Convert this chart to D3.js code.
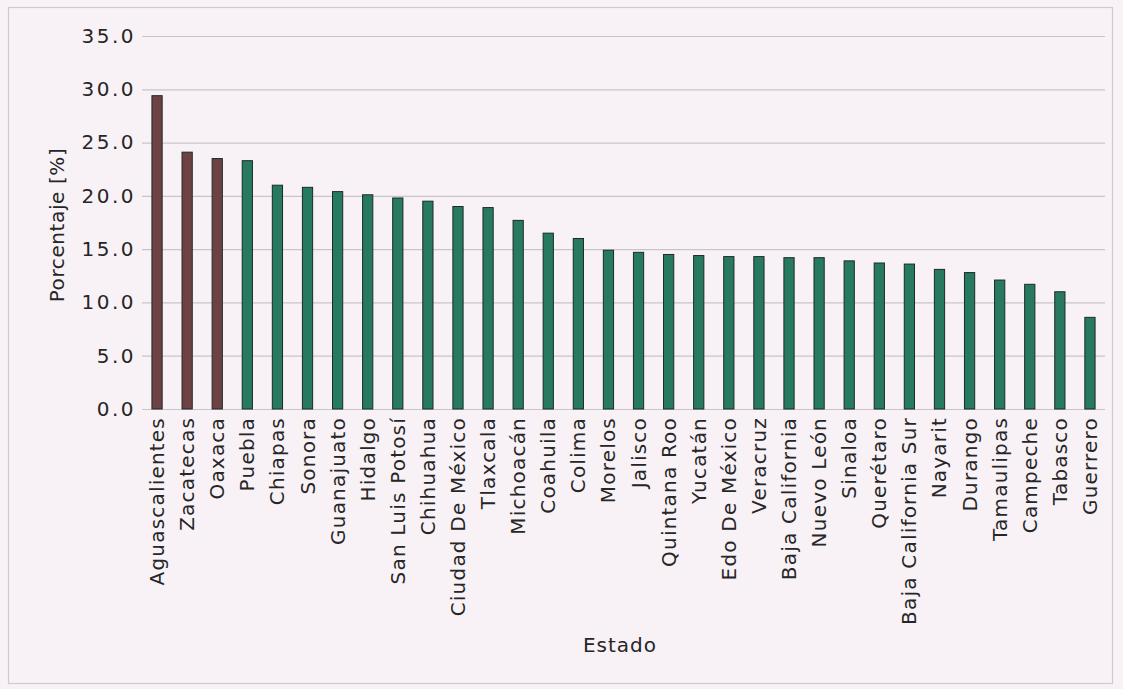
<!DOCTYPE html>
<html>
<head>
<meta charset="utf-8">
<script src="https://cdn.jsdelivr.net/npm/d3@7"></script>
<style>
  html, body { margin: 0; padding: 0; background: #f8f2f7; }
  svg { display: block; }
</style>
</head>
<body>
<div id="chart"></div>
<script>
// Estados ordenados de mayor a menor porcentaje
const estados = [
  'Aguascalientes', 'Zacatecas', 'Oaxaca', 'Puebla', 'Chiapas', 'Sonora',
  'Guanajuato', 'Hidalgo', 'San Luis Potosí', 'Chihuahua', 'Ciudad De México',
  'Tlaxcala', 'Michoacán', 'Coahuila', 'Colima', 'Morelos', 'Jalisco',
  'Quintana Roo', 'Yucatán', 'Edo De México', 'Veracruz', 'Baja California',
  'Nuevo León', 'Sinaloa', 'Querétaro', 'Baja California Sur', 'Nayarit',
  'Durango', 'Tamaulipas', 'Campeche', 'Tabasco', 'Guerrero'
];

const porcentajes = [
  29.4, 24.1, 23.5, 23.3, 21.0, 20.8,
  20.4, 20.1, 19.8, 19.5, 19.0,
  18.9, 17.7, 16.5, 16.0, 14.9, 14.7,
  14.5, 14.4, 14.3, 14.3, 14.2,
  14.2, 13.9, 13.7, 13.6, 13.1,
  12.8, 12.1, 11.7, 11.0, 8.6
];

// Estados resaltados en color guinda
const resaltados = ['Aguascalientes', 'Zacatecas', 'Oaxaca'];

const yTicks = [0, 5, 10, 15, 20, 25, 30, 35];

const W = 1123, H = 689;
const margin = { top: 36, right: 18, bottom: 280, left: 142 };
const width = W - margin.left - margin.right;
const height = H - margin.top - margin.bottom;

const FONT = '"DejaVu Sans", "Noto Sans", sans-serif';
const TEXT = '#262626';

const svg = d3.select('#chart')
  .append('svg')
  .attr('width', W)
  .attr('height', H);

// Marco del gráfico
svg.append('rect')
  .attr('x', 8.5)
  .attr('y', 7.5)
  .attr('width', 1104)
  .attr('height', 676)
  .attr('fill', '#f8f2f7')
  .attr('stroke', '#cfcacd')
  .attr('stroke-width', 1.2);

const g = svg.append('g')
  .attr('transform', `translate(${margin.left},${margin.top})`);

const x = d3.scaleBand()
  .domain(estados)
  .range([0, width])
  .paddingInner(0.66)
  .paddingOuter(0.33);

const y = d3.scaleLinear()
  .domain([0, 35])
  .range([height, 0]);

// Líneas de cuadrícula
g.append('g')
  .selectAll('line')
  .data(yTicks)
  .join('line')
  .attr('x1', 0)
  .attr('x2', width)
  .attr('y1', d => y(d) + 0.5)
  .attr('y2', d => y(d) + 0.5)
  .attr('stroke', '#c9c4c8')
  .attr('stroke-width', 1.2);

// Eje Y
const yAxis = g.append('g')
  .call(d3.axisLeft(y).tickValues(yTicks).tickFormat(d3.format('.1f')).tickSize(0).tickPadding(6));
yAxis.select('.domain').remove();
yAxis.selectAll('text')
  .attr('font-family', FONT)
  .attr('font-size', '20px')
  .attr('letter-spacing', '2.5px')
  .attr('fill', TEXT);

// Barras
g.append('g')
  .selectAll('rect')
  .data(estados)
  .join('rect')
  .attr('x', d => x(d))
  .attr('width', x.bandwidth())
  .attr('y', (d, i) => y(porcentajes[i]))
  .attr('height', (d, i) => y(0) - y(porcentajes[i]))
  .attr('fill', d => resaltados.includes(d) ? '#6e4244' : '#277a60')
  .attr('stroke', '#1d2a26')
  .attr('stroke-width', 1);

// Eje X (etiquetas rotadas)
const xAxis = g.append('g')
  .attr('transform', `translate(0,${height})`)
  .call(d3.axisBottom(x).tickSize(0).tickPadding(0));
xAxis.select('.domain').remove();
xAxis.selectAll('text')
  .attr('font-family', FONT)
  .attr('font-size', '20px')
  .attr('letter-spacing', '1.2px')
  .attr('fill', TEXT)
  .attr('text-anchor', 'end')
  .attr('transform', 'rotate(-90)')
  .attr('x', -8)
  .attr('y', 0)
  .attr('dy', '0.35em');

// Títulos de ejes
svg.append('text')
  .attr('transform', 'rotate(-90)')
  .attr('x', -225)
  .attr('y', 64)
  .attr('text-anchor', 'middle')
  .attr('font-family', FONT)
  .attr('font-size', '20px')
  .attr('letter-spacing', '0.6px')
  .attr('fill', TEXT)
  .text('Porcentaje [%]');

svg.append('text')
  .attr('x', 620)
  .attr('y', 652)
  .attr('text-anchor', 'middle')
  .attr('font-family', FONT)
  .attr('font-size', '20px')
  .attr('letter-spacing', '1px')
  .attr('fill', TEXT)
  .text('Estado');
</script>
</body>
</html>
